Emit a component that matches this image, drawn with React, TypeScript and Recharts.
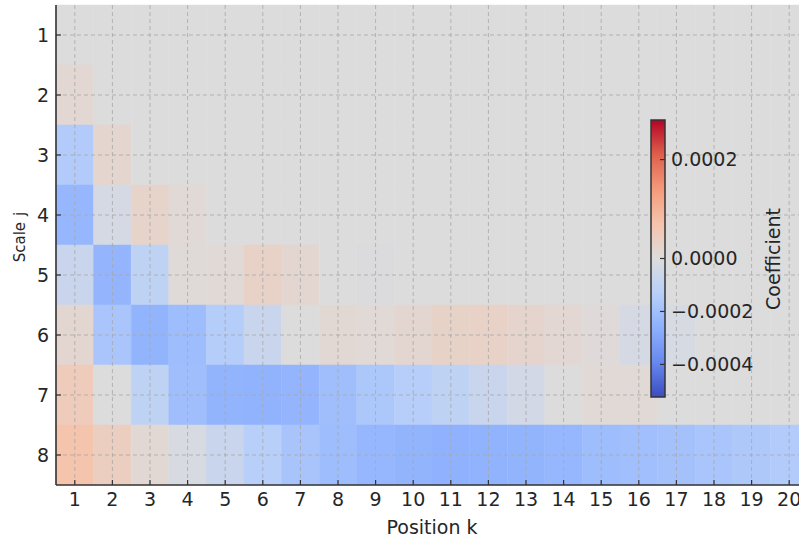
import { ScatterChart, Scatter, XAxis, YAxis, ReferenceArea, ReferenceLine } from 'recharts';

// coefficient per scale j (rows), position k = 1..20
const row1 = [0, 0, 0, 0, 0, 0, 0, 0, 0, 0, 0, 0, 0, 0, 0, 0, 0, 0, 0, 0];
const row2 = [0.000015, 0, 0, 0, 0, 0, 0, 0, 0, 0, 0, 0, 0, 0, 0, 0, 0, 0, 0, 0];
const row3 = [-0.00015, 0.00002, 0, 0, 0, 0, 0, 0, 0, 0, 0, 0, 0, 0, 0, 0, 0, 0, 0, 0];
const row4 = [-0.000234, -0.00003, 0.000027, 0.00001, 0, 0, 0, 0, 0, 0, 0, 0, 0, 0, 0, 0, 0, 0, 0, 0];
const row5 = [-0.000074, -0.00024, -0.00011, 0.000006, 0.000009, 0.000032, 0.000018, 0, -0.000008, 0, 0, 0, 0, 0, 0, 0, 0, 0, 0, 0];
const row6 = [0.000017, -0.000174, -0.000247, -0.00021, -0.000143, -0.000074, -0.000005, 0.000011, 0.000009, 0.000017, 0.000029, 0.000032, 0.000022, 0.000015, 0.000005, -0.00003, -0.000025, 0, 0, 0];
const row7 = [0.00005, 0, -0.00011, -0.000204, -0.000247, -0.000249, -0.000241, -0.000204, -0.000168, -0.000137, -0.00011, -0.000074, -0.000039, 0, 0.000009, 0.000009, 0, 0, 0, 0];
const row8 = [0.00007, 0.000041, 0.000011, -0.000021, -0.000074, -0.000131, -0.00018, -0.00021, -0.000234, -0.000247, -0.000252, -0.00025, -0.000245, -0.000234, -0.00021, -0.0002, -0.00019, -0.000175, -0.000162, -0.00015];

const rows = [row1, row2, row3, row4, row5, row6, row7, row8];
const kTicks = [1, 2, 3, 4, 5, 6, 7, 8, 9, 10, 11, 12, 13, 14, 15, 16, 17, 18, 19, 20];
const jTicks = [1, 2, 3, 4, 5, 6, 7, 8];
const cbTicks = [0.0002, 0, -0.0002, -0.0004];
const vmin = -0.000523;
const vmax = 0.00028;

// coolwarm anchors
const coolwarm: [number, number, number][] = [
  [59, 76, 192], [103, 136, 238], [141, 176, 254], [184, 208, 249],
  [221, 220, 220], [245, 196, 172], [244, 154, 123], [222, 96, 77], [180, 4, 38],
];

const norm = (v: number) => (v < 0 ? 0.5 - 0.5 * (v / vmin) : 0.5 + 0.5 * (v / vmax));

const colorOf = (v: number) => {
  const t = Math.max(0, Math.min(1, norm(v))) * (coolwarm.length - 1);
  const i = Math.min(coolwarm.length - 2, Math.floor(t));
  const f = t - i;
  const a = coolwarm[i];
  const b = coolwarm[i + 1];
  const c = a.map((x, n) => Math.round(x + (b[n] - x) * f));
  return `rgb(${c[0]},${c[1]},${c[2]})`;
};

const cells = rows.flatMap((r, ji) => r.map((v, ki) => ({ j: ji + 1, k: ki + 1, v })));

const font = 'DejaVu Sans, sans-serif';
const ink = '#262626';
const spine = '#333333';

const YLabel = () => (
  <text x={0} y={0} transform="translate(25,237) rotate(-90)" textAnchor="middle" fontFamily={font} fontSize={15} fill={ink}>
    Scale<tspan dx={6}>j</tspan>
  </text>
);

// colorbar geometry
const cbX = 651;
const cbW = 14;
const cbTop = 120;
const cbBottom = 397;
const cbMid = (cbTop + cbBottom) / 2;
const cbY = (v: number) => (v >= 0 ? cbMid - (v / vmax) * (cbMid - cbTop) : cbMid + (v / vmin) * (cbBottom - cbMid));
const fmt = (v: number) => (v < 0 ? '\u2212' : '') + Math.abs(v).toFixed(4);

export default function App() {
  return (
    <div style={{ position: 'fixed', left: 0, top: 0, width: 799, height: 540, overflow: 'hidden', background: '#fff' }}>
      <ScatterChart width={820} height={540} margin={{ top: 5, right: 12, bottom: 0, left: 0 }}>
        <XAxis
          type="number"
          dataKey="k"
          domain={[0.5, 20.5]}
          ticks={kTicks}
          interval={0}
          height={55}
          tickSize={-5}
          tickMargin={13}
          axisLine={{ stroke: spine, strokeWidth: 1.6 }}
          tickLine={{ stroke: spine, strokeWidth: 1.2 }}
          tick={{ fontFamily: font, fontSize: 19, fill: ink }}
          label={{ value: 'Position k', position: 'insideBottom', offset: 6, fontFamily: font, fontSize: 19, fill: ink }}
        />
        <YAxis
          type="number"
          dataKey="j"
          domain={[0.5, 8.5]}
          reversed
          ticks={jTicks}
          interval={0}
          width={56}
          tickSize={-5}
          tickMargin={12}
          axisLine={{ stroke: spine, strokeWidth: 1.6 }}
          tickLine={{ stroke: spine, strokeWidth: 1.2 }}
          tick={{ fontFamily: font, fontSize: 19, fill: ink }}
          label={<YLabel />}
        />
        {cells.map((c) => (
          <ReferenceArea
            key={`c-${c.j}-${c.k}`}
            x1={c.k - 0.5}
            x2={c.k + 0.5}
            y1={c.j - 0.5}
            y2={c.j + 0.5}
            fill={colorOf(c.v)}
            fillOpacity={1}
            stroke={colorOf(c.v)}
            strokeWidth={0.5}
            ifOverflow="visible"
          />
        ))}
        {kTicks.map((k) => (
          <ReferenceLine key={`gx-${k}`} x={k} stroke="#a8a8a8" strokeOpacity={0.8} strokeDasharray="4 3" strokeWidth={1} />
        ))}
        {jTicks.map((j) => (
          <ReferenceLine key={`gy-${j}`} y={j} stroke="#a8a8a8" strokeOpacity={0.8} strokeDasharray="4 3" strokeWidth={1} />
        ))}
        <Scatter data={cells} isAnimationActive={false} shape={() => <g />} />
      </ScatterChart>
      <svg width={799} height={540} style={{ position: 'absolute', left: 0, top: 0, pointerEvents: 'none' }}>
        <defs>
          <linearGradient id="cw" x1="0" y1="1" x2="0" y2="0">
            {coolwarm.map((c, i) => (
              <stop key={i} offset={i / (coolwarm.length - 1)} stopColor={`rgb(${c[0]},${c[1]},${c[2]})`} />
            ))}
          </linearGradient>
        </defs>
        <rect x={cbX} y={cbTop} width={cbW} height={cbBottom - cbTop} fill="url(#cw)" stroke={spine} strokeWidth={1.5} />
        {cbTicks.map((v) => (
          <g key={v}>
            <line x1={cbX + cbW - 5} x2={cbX + cbW} y1={cbY(v)} y2={cbY(v)} stroke={spine} strokeWidth={1.2} />
            <text x={cbX + cbW + 6} y={cbY(v)} dy="0.36em" fontFamily={font} fontSize={19} fill={ink}>
              {fmt(v)}
            </text>
          </g>
        ))}
        <text x={0} y={0} transform="translate(780,259) rotate(-90)" textAnchor="middle" fontFamily={font} fontSize={19} fill={ink}>
          Coefficient
        </text>
      </svg>
    </div>
  );
}
